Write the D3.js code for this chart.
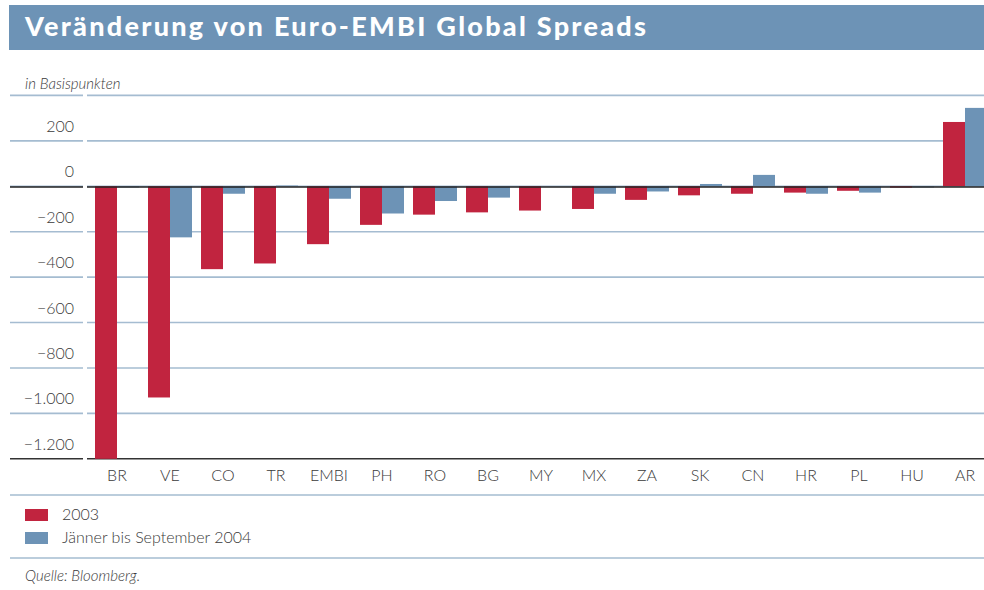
<!DOCTYPE html>
<html>
<head>
<meta charset="utf-8">
<script src="https://cdn.jsdelivr.net/npm/d3@7"></script>
<style>
  html, body { margin: 0; padding: 0; background: #fff; }
  svg { display: block; }
</style>
</head>
<body>
<svg id="chart" width="984" height="590"></svg>
<script>
// ---- data ----
const categories = ["BR","VE","CO","TR","EMBI","PH","RO","BG","MY","MX","ZA","SK","CN","HR","PL","HU","AR"];
const values2003 = [-1200,-930,-365,-340,-255,-170,-125,-115,-107,-100,-60,-40,-33,-28,-20,-6,283];
const values2004 = [-5,-225,-33,3,-55,-120,-65,-50,0,-33,-23,10,50,-33,-28,-5,345];
const seriesNames = ["2003","Jänner bis September 2004"];
const yTicks = [-1200,-1000,-800,-600,-400,-200,0,200,400];
const yLabelTicks = [-1200,-1000,-800,-600,-400,-200,0,200];

const colors = ["#c1243f", "#6d93b6"];
const gridColor = "#a5bcd1";
const textColor = "#3a3a3a";
const font = "Lato, 'Open Sans', sans-serif";
const lw = 300;

const svg = d3.select("#chart");

// title bar
svg.append("rect").attr("x", 9).attr("y", 5).attr("width", 975).attr("height", 45).attr("fill", "#6d93b6");
svg.append("text")
  .attr("x", 25).attr("y", 36)
  .attr("fill", "#fff")
  .attr("font-family", font)
  .attr("font-weight", 900)
  .attr("font-size", 27)
  .attr("textLength", 621)
  .attr("lengthAdjust", "spacing")
  .text("Veränderung von Euro-EMBI Global Spreads");

svg.append("text")
  .attr("x", 25).attr("y", 89)
  .attr("fill", textColor)
  .attr("font-family", font)
  .attr("font-weight", lw)
  .attr("font-style", "italic")
  .attr("font-size", 15)
  .text("in Basispunkten");

// scales
const y = d3.scaleLinear().domain([-1200, 400]).range([458.8, 95.4]);
const x0 = d3.scaleBand().domain(categories).range([90.5, 991.5]).paddingInner(0.17).paddingOuter(0.085);
const x1 = d3.scaleBand().domain([0, 1]).range([0, x0.bandwidth()]);

// grid lines (split into left label segment and right plot segment)
const segs = [[10, 83], [87, 984]];
yTicks.forEach(t => {
  segs.forEach(s => {
    svg.append("line")
      .attr("x1", s[0]).attr("x2", s[1])
      .attr("y1", y(t)).attr("y2", y(t))
      .attr("stroke", (t === -1200) ? "#333" : gridColor)
      .attr("stroke-width", 1.6);
  });
});

// y tick labels
const fmt = v => {
  const a = Math.abs(v);
  const s = a >= 1000 ? Math.floor(a / 1000) + "." + String(a % 1000).padStart(3, "0") : String(a);
  return (v < 0 ? "\u2212" : "") + s;
};
svg.append("g").selectAll("text").data(yLabelTicks).join("text")
  .attr("x", 74).attr("y", d => y(d) - 9)
  .attr("text-anchor", "end")
  .attr("fill", textColor)
  .attr("font-family", font)
  .attr("font-weight", lw)
  .attr("font-size", 16)
  .text(fmt);

// bars
const series = [values2003, values2004];
const g = svg.append("g");
series.forEach((vals, si) => {
  g.append("g").selectAll("rect").data(categories).join("rect")
    .attr("x", (c) => x0(c) + x1(si))
    .attr("width", x1.bandwidth())
    .attr("y", (c, i) => y(Math.max(0, vals[i])))
    .attr("height", (c, i) => Math.abs(y(vals[i]) - y(0)))
    .attr("fill", colors[si]);
});

// zero axis (dark)
segs.forEach(s => {
  svg.append("line")
    .attr("x1", s[0]).attr("x2", s[1])
    .attr("y1", y(0) + 0.8).attr("y2", y(0) + 0.8)
    .attr("stroke", "#222").attr("stroke-width", 1.4);
});

// x labels
svg.append("g").selectAll("text").data(categories).join("text")
  .attr("x", c => x0(c) + x0.bandwidth() / 2)
  .attr("y", 481)
  .attr("text-anchor", "middle")
  .attr("fill", textColor)
  .attr("font-family", font)
  .attr("font-weight", lw)
  .attr("font-size", 16)
  .text(c => c);

// separators
[495, 558].forEach(yy => {
  svg.append("line").attr("x1", 10).attr("x2", 984).attr("y1", yy).attr("y2", yy)
    .attr("stroke", gridColor).attr("stroke-width", 1.6);
});

// legend
seriesNames.forEach((name, i) => {
  const ly = 509 + i * 23;
  svg.append("rect").attr("x", 25).attr("y", ly).attr("width", 23).attr("height", 12).attr("fill", colors[i]);
  svg.append("text")
    .attr("x", 62).attr("y", ly + 11)
    .attr("fill", textColor)
    .attr("font-family", font)
    .attr("font-weight", lw)
    .attr("font-size", 16)
    .text(name);
});

// source
svg.append("text")
  .attr("x", 25).attr("y", 581)
  .attr("fill", textColor)
  .attr("font-family", font)
  .attr("font-weight", lw)
  .attr("font-style", "italic")
  .attr("font-size", 15)
  .text("Quelle: Bloomberg.");
</script>
</body>
</html>
